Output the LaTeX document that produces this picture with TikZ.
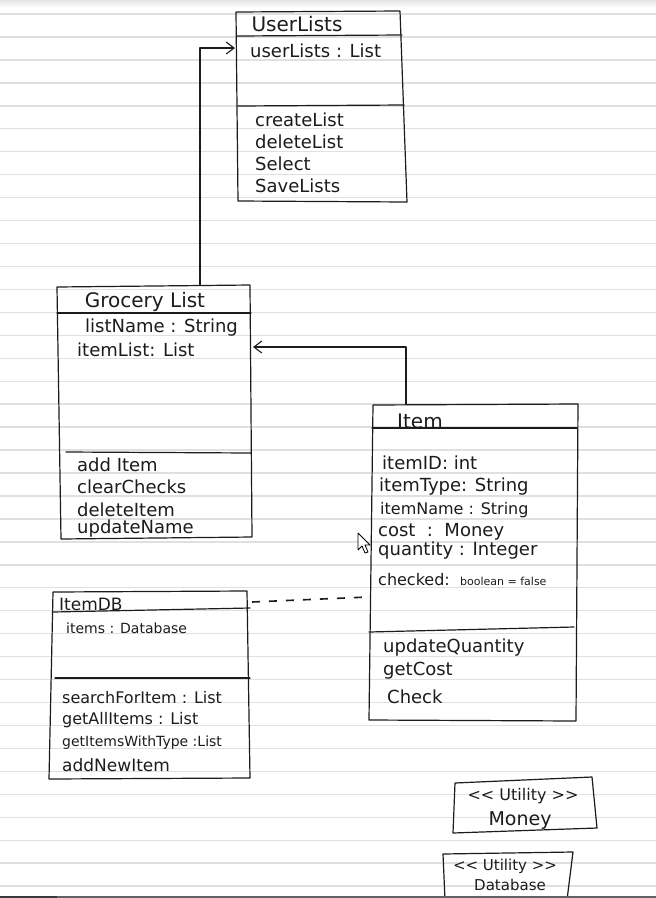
\documentclass[tikz,border=0pt]{standalone}
\usepackage{fontspec}
\setmainfont{DejaVu Sans}
\usetikzlibrary{arrows.meta}
\definecolor{ink}{HTML}{1C1C1C}
\definecolor{ruling}{HTML}{E0E0E0}

\begin{document}
\begin{tikzpicture}[x=1pt,y=-1pt,
  inkline/.style={draw=ink, line width=1.2pt, line join=round, line cap=round},
  ruleline/.style={draw=ruling, line width=1.4pt},
  conn/.style={draw=ink, line width=1.1pt, line join=round, line cap=round},
  opentip/.style={-{Straight Barb[length=8pt,width=12pt]}},
  txt/.style={inner sep=0pt, anchor=west, text=ink, font=\fontsize{18}{20}\selectfont},
  txtsm/.style={txt, font=\fontsize{16}{18}\selectfont},
  txtxs/.style={txt, font=\fontsize{14}{16}\selectfont},
  ttl/.style={inner sep=0pt, text=ink, font=\fontsize{20}{22}\selectfont},
]
% page
\useasboundingbox (0,0) rectangle (656,898);
\clip (0,0) rectangle (656,898);
\fill[white] (0,0) rectangle (656,898);
\shade[top color=black!10, bottom color=white] (0,0) rectangle (656,8);
\foreach \i in {0,...,38}
  \draw[ruleline] (0,{14+22.95*\i}) -- (656,{14+22.95*\i});

% ---------- UserLists ----------
\draw[inkline] (236,12) -- (400,11) -- (407,202) -- (238,201) -- cycle;
\draw[inkline] (237,36) -- (402,35);
\draw[inkline] (238,106) -- (404,105);
\node[ttl] (ul-name) at (297,24) {UserLists};
\node[txt] (ul-a1) at (250,51) {userLists : List};
\node[txt] (ul-m1) at (255,120) {createList};
\node[txt] (ul-m2) at (255,142) {deleteList};
\node[txt] (ul-m3) at (255,164) {Select};
\node[txt] (ul-m4) at (255,186) {SaveLists};
\coordinate (ul-in) at (235,48);

% ---------- Grocery List ----------
\draw[inkline] (57,287) -- (250,285) -- (252,537) -- (61,539) -- cycle;
\draw[inkline] (57,313) -- (251,313);
\draw[inkline] (66,452) -- (251,453);
\node[ttl] (gl-name) at (145,302) {Grocery List};
\node[txt] (gl-a1) at (85,328) {listName : String};
\node[txt] (gl-a2) at (77,350) {itemList: List};
\node[txt] (gl-m1) at (77,465) {add Item};
\node[txt] (gl-m2) at (77,487) {clearChecks};
\node[txt] (gl-m3) at (77,510) {deleteItem};
\node[txt] (gl-m4) at (77,529) {updateName};
\coordinate (gl-top) at (200,285);
\coordinate (gl-in) at (253,347);

% ---------- Item ----------
\draw[inkline] (373,405) -- (578,404) -- (576,721) -- (369,720) -- cycle;
\draw[inkline] (372,428) -- (577,428);
\draw[inkline] (369,632) -- (574,627);
\node[ttl] (it-name) at (420,421) {Item};
\node[txt] (it-a1) at (382,463) {itemID: int};
\node[txt] (it-a2) at (379,487) {itemType: String};
\node[txtsm] (it-a3) at (380,510) {itemName : String};
\node[txt] (it-a4) at (378,532) {cost\ \ :\ \ Money};
\node[txt] (it-a5) at (378,551) {quantity : Integer};
\node[txtsm] (it-a6) at (378,580) {checked: {\fontsize{11}{12}\selectfont\ boolean = false}};
\node[txt] (it-m1) at (383,648) {updateQuantity};
\node[txt] (it-m2) at (383,671) {getCost};
\node[txt] (it-m3) at (387,697) {Check};
\coordinate (it-top) at (406,404);
\coordinate (it-left) at (368,597);

% ---------- ItemDB ----------
\draw[inkline] (53,592) -- (247,591) -- (250,778) -- (49,779) -- cycle;
\draw[inkline] (53,612) -- (250,608);
\draw[inkline] (55,678) -- (250,678);
\node[txt, font=\fontsize{17}{19}\selectfont] (db-name) at (59,604) {ItemDB};
\node[txtxs] (db-a1) at (66,628) {items : Database};
\node[txtsm] (db-m1) at (62,698) {searchForItem : List};
\node[txtsm] (db-m2) at (62,720) {getAllItems : List};
\node[txtxs] (db-m3) at (62,743) {getItemsWithType :List};
\node[txt, font=\fontsize{17}{19}\selectfont] (db-m4) at (62,765) {addNewItem};
\coordinate (db-right) at (252,602);

% ---------- utility classes ----------
\draw[inkline] (455,783) -- (592,777) -- (597,828) -- (453,833) -- cycle;
\node[ttl, font=\fontsize{16}{18}\selectfont] (money-st) at (523,796) {{<}{<} Utility {>}{>}};
\node[ttl, font=\fontsize{19}{21}\selectfont] (money-name) at (520,821) {Money};

\draw[inkline] (445,900) -- (443,854) -- (573,852) -- (567,900);
\node[ttl, font=\fontsize{15}{17}\selectfont] (dbase-st) at (505,866) {{<}{<} Utility {>}{>}};
\node[ttl, font=\fontsize{15}{17}\selectfont] (dbase-name) at (510,885) {Database};

% ---------- connectors ----------
\draw[conn, opentip] (gl-top) |- (ul-in);
\draw[conn, opentip] (it-top) |- (gl-in);
\draw[conn, line width=1.6pt, line cap=butt, dash pattern=on 8pt off 9pt] (db-right) -- (it-left);

% pointer
\draw[fill=white, draw=black, line width=0.8pt, line join=round]
  (358,533) -- (358,550) -- (362,546) -- (365,553) -- (368,552) -- (365,545) -- (370,545) -- cycle;

% screen edge strip
\fill[black!78] (0,895.5) rectangle (57,898);
\fill[black!62] (57,895.5) rectangle (656,898);
\end{tikzpicture}
\end{document}
